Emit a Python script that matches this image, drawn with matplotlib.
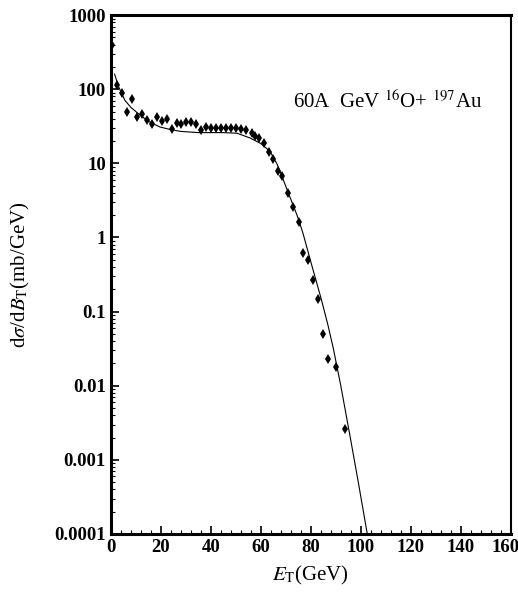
import matplotlib.pyplot as plt
from matplotlib.ticker import FixedLocator, NullFormatter, LogLocator
import matplotlib.transforms as mtransforms
import numpy as np

et_data = [0.5, 2.5, 4.5, 6.5, 8.5, 10.5, 12.5, 14.5, 16.5, 18.5, 20.5, 22.5,
           24.5, 26.5, 28, 30, 32, 34, 36, 38, 40, 42, 44, 46, 48, 50, 52, 54,
           56.5, 57.7, 59.3, 61.3, 63.4, 65.0, 67.0, 68.6, 71.0, 73.0, 75.4,
           77.0, 79.0, 81.0, 83.0, 85.0, 87.0, 90.2, 93.8]
sigma_data = [390, 113, 90, 49, 74, 42, 46, 38, 34, 42, 37, 40,
              29, 35, 34, 36, 36, 34, 28, 31, 30, 30, 30, 30, 30, 30, 29, 28,
              25.6, 23.3, 21.9, 18.8, 14.2, 11.4, 7.9, 6.7, 3.96, 2.56, 1.61,
              0.61, 0.49, 0.27, 0.147, 0.050, 0.0228, 0.0178, 0.00259]

# Curva teorica
et_curve = [1.5, 3, 5.6, 8, 11.6, 15, 19.6, 24, 28, 35, 45, 50.5, 55.7, 60,
            63.7, 66.5, 69, 71, 73, 75, 77, 80, 84.2, 87, 89, 92, 95.8, 99, 102.6]
sigma_curve = [160, 110, 71, 57, 45, 37, 31, 28.5, 27, 26, 26, 25.5, 22, 18.5,
               14.5, 9.8, 6.0, 4.0, 2.7, 1.8, 1.1, 0.47, 0.147, 0.063, 0.032,
               0.01, 0.002, 0.0005, 0.0001]

plt.rcParams['font.family'] = ['Liberation Serif', 'DejaVu Serif']
plt.rcParams['mathtext.fontset'] = 'stix'

fig = plt.figure(figsize=(5.18, 5.93), dpi=100)
ax = fig.add_axes([0.214, 0.0995, 0.772, 0.875])

ax.plot(et_curve, sigma_curve, color='black', lw=0.8)
ax.plot(et_data, sigma_data, linestyle='none', marker='d', markersize=5,
        color='black', markeredgewidth=0)

ax.set_yscale('log')
ax.set_xlim(0, 160)
ax.set_ylim(0.0001, 1000)

ax.set_xticks(range(0, 161, 20))
ax.xaxis.set_minor_locator(FixedLocator([v for v in range(0, 161, 4) if v % 20 != 0]))
ax.set_yticks([0.0001, 0.001, 0.01, 0.1, 1, 10, 100, 1000])
ax.set_yticklabels(['0.0001', '0.001', '0.01', '0.1', '1', '10', '100', '1000'])
ax.yaxis.set_minor_locator(LogLocator(base=10, subs=np.arange(2, 10), numticks=20))
ax.yaxis.set_minor_formatter(NullFormatter())

ax.tick_params(which='major', direction='in', length=6, width=1.2,
               labelsize=13.5, top=False, right=False)
ax.tick_params(which='minor', direction='in', length=3, width=0.8,
               top=False, right=False)
for lab in ax.get_xticklabels() + ax.get_yticklabels():
    lab.set_fontweight('semibold')

# el ultimo rotulo (160) queda pegado al borde derecho
last = ax.get_xticklabels()[-1]
last.set_transform(last.get_transform() + mtransforms.ScaledTranslation(-4 / 72, 0, fig.dpi_scale_trans))

for side in ['left', 'bottom', 'top']:
    ax.spines[side].set_linewidth(2.2)
ax.spines['right'].set_linewidth(1.5)

ax.set_xlabel(r'$E_{\mathrm{T}}$(GeV)', fontsize=15, labelpad=6)
ax.set_ylabel(r'd$\sigma$/d$B_{\mathrm{T}}$(mb/GeV)', fontsize=15, labelpad=16)

ax.text(110.7, 68, r'60A  GeV $^{16}$O+ $^{197}$Au', fontsize=15,
        ha='center', va='center')

fig.savefig('out.png', dpi=100)
